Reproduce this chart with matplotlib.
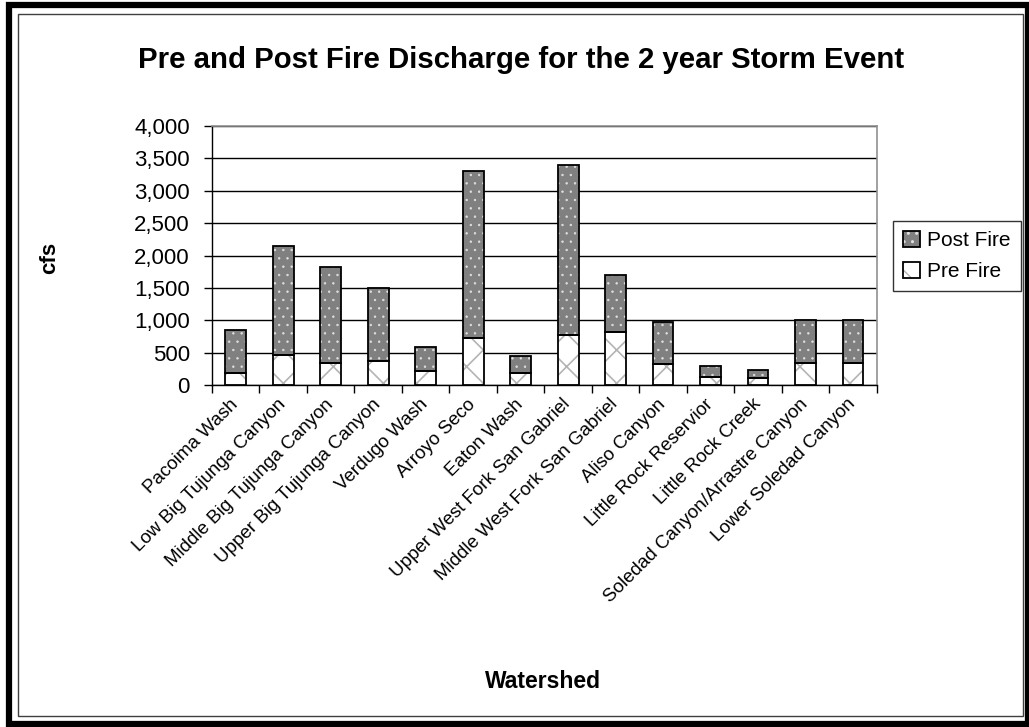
import numpy as np
import matplotlib
matplotlib.use("Agg")
import matplotlib.pyplot as plt
from matplotlib.patches import Patch, Rectangle
from matplotlib.legend_handler import HandlerTuple
from matplotlib.ticker import FuncFormatter, MultipleLocator

plt.rcParams['font.family'] = ['Liberation Sans', 'DejaVu Sans']

watersheds = ["Pacoima Wash", "Low Big Tujunga Canyon", "Middle Big Tujunga Canyon",
              "Upper Big Tujunga Canyon", "Verdugo Wash", "Arroyo Seco", "Eaton Wash",
              "Upper West Fork San Gabriel", "Middle West Fork San Gabriel", "Aliso Canyon",
              "Little Rock Reservior", "Little Rock Creek", "Soledad Canyon/Arrastre Canyon",
              "Lower Soledad Canyon"]
pre_fire = [190, 467, 344, 365, 211, 729, 190, 775, 822, 318, 123, 103, 339, 339]
post_fire = [847, 2146, 1823, 1494, 585, 3302, 452, 3394, 1700, 976, 298, 236, 1001, 1001]

fig = plt.figure(figsize=(10.29, 7.27), dpi=100)
ax = fig.add_axes([0.206, 0.4704, 0.646, 0.3563])

x = np.arange(len(watersheds))
w = 0.44
pre = np.array(pre_fire)
post = np.array(post_fire)

PRE_HATCH = dict(facecolor='white', edgecolor='#b4b4b4', hatch='x', linewidth=0)
POST_HATCH = dict(facecolor='#808080', edgecolor='#e0e0e0', hatch='..', linewidth=0)
OUTLINE = dict(fill=False, edgecolor='black', linewidth=1.3)

# pre fire: white with light grey cross hatch
with plt.rc_context({'hatch.linewidth': 1.2}):
    ax.bar(x, pre, w, zorder=3, **PRE_HATCH)
    pre_handle = Patch(**PRE_HATCH)
ax.bar(x, pre, w, zorder=4, **OUTLINE)
# post fire stacked on top: grey with small white dots
with plt.rc_context({'hatch.linewidth': 0.5}):
    ax.bar(x, post - pre, w, bottom=pre, zorder=3, **POST_HATCH)
    post_handle = Patch(**POST_HATCH)
ax.bar(x, post - pre, w, bottom=pre, zorder=4, **OUTLINE)

ax.set_xlim(-0.5, len(watersheds) - 0.5)
ax.set_ylim(0, 4000)
ax.yaxis.set_major_locator(MultipleLocator(500))
ax.yaxis.set_major_formatter(FuncFormatter(lambda v, p: f"{int(v):,}"))
ax.grid(axis='y', color='black', linewidth=1, zorder=1)
ax.set_axisbelow(True)

ax.set_xticks(np.arange(-0.5, len(watersheds), 1.0))
ax.set_xticklabels([])
ax.set_xticks(x, minor=True)
ax.set_xticklabels(watersheds, minor=True, rotation=45, ha='right', va='center',
                   rotation_mode='anchor', fontsize=13.5)
ax.tick_params(axis='x', which='minor', length=0, pad=12)
ax.tick_params(axis='x', which='major', length=6, width=1, direction='out')
ax.tick_params(axis='y', length=6, width=1, direction='out', labelsize=16, pad=10)

for s in ['top', 'right']:
    ax.spines[s].set_color('#909090')
    ax.spines[s].set_linewidth(1.2)
for s in ['left', 'bottom']:
    ax.spines[s].set_color('black')
    ax.spines[s].set_linewidth(1)

fig.text(0.506, 0.917, "Pre and Post Fire Discharge for the 2 year Storm Event",
         ha='center', va='center', fontsize=21.2, fontweight='bold')
fig.text(50 / 1029, 1 - 258 / 727, "cfs", ha='center', va='center', rotation=90,
         fontsize=16, fontweight='bold')
fig.text(543 / 1029, 1 - 682 / 727, "Watershed", ha='center', va='center',
         fontsize=16.5, fontweight='bold')

handles = [(post_handle, Patch(**OUTLINE)), (pre_handle, Patch(**OUTLINE))]
leg = fig.legend(handles=handles, labels=['Post Fire', 'Pre Fire'],
                 handler_map={tuple: HandlerTuple(ndivide=1, pad=0)},
                 loc='center left', bbox_to_anchor=(893 / 1029, 1 - 256 / 727),
                 fontsize=15, frameon=True, fancybox=False, edgecolor='black',
                 handlelength=0.8, handleheight=0.8, handletextpad=0.35,
                 borderpad=0.5, labelspacing=0.55, borderaxespad=0)
leg.get_frame().set_linewidth(1)

# outer frames
fig.patches.append(Rectangle((18 / 1029, 1 - 716 / 727), (1023 - 18) / 1029,
                             (716 - 14) / 727, transform=fig.transFigure,
                             fill=False, edgecolor='#404040', linewidth=1))
fig.patches.append(Rectangle((9 / 1029, 1 - 724 / 727), (1028 - 9) / 1029,
                             (724 - 5) / 727, transform=fig.transFigure,
                             fill=False, edgecolor='black', linewidth=4.5))

fig.savefig("out.png", dpi=100)
